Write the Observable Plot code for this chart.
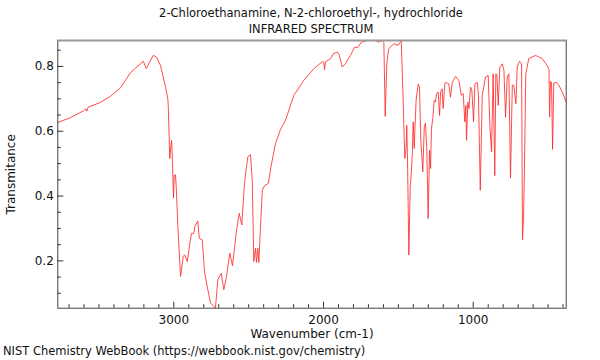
<!DOCTYPE html>
<html>
<head>
<meta charset="utf-8">
<script src="https://cdn.jsdelivr.net/npm/d3@7"></script>
<script src="https://cdn.jsdelivr.net/npm/@observablehq/plot@0.6"></script>
<style>
  html, body { margin: 0; padding: 0; background: #fff; }
  #wrap { position: relative; width: 600px; height: 360px; font-family: "DejaVu Sans", sans-serif; color: #111; overflow: hidden; }
  #wrap svg { position: absolute; left: 0; top: 0; }
  .t { position: absolute; white-space: nowrap; font-size: 11.5px; line-height: 1; }
</style>
</head>
<body>
<div id="wrap">
  <div class="t" id="title1" style="left:0;width:622px;text-align:center;top:8px;">2-Chloroethanamine, N-2-chloroethyl-, hydrochloride</div>
  <div class="t" id="title2" style="left:0;width:622px;text-align:center;top:24px;">INFRARED SPECTRUM</div>
  <div class="t" id="caption" style="left:3px;top:346px;">NIST Chemistry WebBook (https://webbook.nist.gov/chemistry)</div>
</div>
<script>
const wavenumbers = [3775,3690,3603,3588,3581,3573,3490,3423,3356,3289,3204,3184,3138,3116,3089,3055,3040,3037,3027,3022,3015,3011,3002,2997,2989,2984,2973,2955,2937,2927,2910,2893,2882,2866,2860,2840,2830,2810,2795,2777,2755,2722,2706,2683,2666,2648,2626,2608,2581,2563,2546,2528,2506,2488,2476,2466,2454,2448,2439,2432,2421,2409,2394,2369,2349,2321,2287,2254,2198,2132,2065,2005,1998,1993,1987,1953,1935,1908,1896,1875,1853,1820,1793,1771,1746,1708,1653,1631,1608,1597,1588,1577,1564,1530,1501,1481,1470,1464,1457,1448,1444,1439,1430,1421,1414,1407,1401,1394,1390,1381,1367,1359,1350,1337,1327,1319,1310,1301,1292,1285,1279,1270,1261,1252,1245,1234,1225,1218,1208,1201,1190,1185,1163,1152,1140,1118,1096,1080,1067,1056,1049,1045,1036,1029,1018,1009,998,989,973,965,953,940,918,900,889,878,867,856,849,842,833,822,806,795,784,773,762,751,739,729,715,706,691,677,671,664,658,649,629,584,539,506,494,490,484,477,470,462,444,428,405,379];
const transmittance = [0.627,0.642,0.663,0.669,0.662,0.674,0.689,0.708,0.734,0.781,0.816,0.793,0.834,0.829,0.803,0.736,0.700,0.675,0.516,0.542,0.572,0.532,0.394,0.465,0.465,0.429,0.305,0.152,0.215,0.218,0.198,0.254,0.285,0.285,0.305,0.323,0.270,0.265,0.166,0.121,0.070,0.055,0.142,0.162,0.111,0.152,0.224,0.185,0.295,0.347,0.311,0.439,0.521,0.528,0.449,0.198,0.239,0.195,0.239,0.195,0.306,0.418,0.432,0.439,0.495,0.562,0.606,0.634,0.711,0.757,0.793,0.816,0.812,0.790,0.814,0.824,0.839,0.844,0.837,0.798,0.809,0.834,0.859,0.859,0.875,0.880,0.880,0.875,0.880,0.875,0.646,0.812,0.855,0.870,0.865,0.880,0.726,0.624,0.516,0.552,0.618,0.516,0.218,0.429,0.470,0.531,0.629,0.547,0.603,0.700,0.746,0.736,0.572,0.475,0.613,0.625,0.542,0.331,0.542,0.485,0.608,0.640,0.695,0.690,0.716,0.721,0.649,0.721,0.731,0.670,0.746,0.751,0.746,0.705,0.751,0.769,0.757,0.711,0.716,0.629,0.680,0.572,0.690,0.670,0.736,0.726,0.629,0.746,0.751,0.711,0.418,0.711,0.767,0.772,0.618,0.537,0.777,0.463,0.777,0.775,0.680,0.798,0.808,0.788,0.643,0.767,0.777,0.455,0.742,0.742,0.685,0.798,0.816,0.808,0.265,0.334,0.480,0.777,0.824,0.834,0.824,0.803,0.791,0.644,0.754,0.751,0.544,0.749,0.751,0.742,0.721,0.690];
const xMajorTicks = [3000, 2000, 1000];
const xMinorTicks = [3700,3600,3500,3400,3300,3200,3100,2900,2800,2700,2600,2500,2400,2300,2200,2100,1900,1800,1700,1600,1500,1400,1300,1200,1100,900,800,700,600,500,400];
const yMajorTicks = [0.2, 0.4, 0.6, 0.8];
const yMinorTicks = [0.1,0.15,0.25,0.3,0.35,0.45,0.5,0.55,0.65,0.7,0.75,0.85];
const xLabel = "Wavenumber (cm-1)";
const yLabel = "Transmitance";

const spectrum = wavenumbers.map((w, i) => ({w, t: transmittance[i]}));

const W = 600, H = 360;
const mL = 57.3, mR = 34.3, mT = 40, mB = 52.3;
const plotW = W - mL - mR, plotH = H - mT - mB;

const chart = Plot.plot({
  width: W, height: H,
  marginLeft: mL, marginRight: mR, marginTop: mT, marginBottom: mB,
  style: {fontFamily: "DejaVu Sans, sans-serif", fontSize: "11.5px", color: "#111", background: "white"},
  x: {domain: [3775, 379]},
  y: {domain: [0.054, 0.88]},
  marks: [
    Plot.line(spectrum, {x: "w", y: "t", stroke: "#ff2a2a", strokeWidth: 0.85, curve: "linear"}),
    Plot.frame({stroke: "#444", strokeWidth: 1}),
    Plot.frame({anchor: "top", stroke: "#9a9a9a", strokeWidth: 2}),
    Plot.tickX(xMajorTicks, {x: d => d, stroke: "#333", insetTop: plotH - 6}),
    Plot.tickX(xMinorTicks, {x: d => d, stroke: "#333", insetTop: plotH - 3.5}),
    Plot.tickY(yMajorTicks, {y: d => d, stroke: "#333", insetRight: plotW - 6}),
    Plot.tickY(yMinorTicks, {y: d => d, stroke: "#333", insetRight: plotW - 3.5}),
    Plot.axisX(xMajorTicks, {tickSize: 0, tickPadding: 7, tickFormat: d => String(d), label: xLabel, labelAnchor: "center", labelArrow: "none", labelOffset: 30, fontSize: 12}),
    Plot.axisY(yMajorTicks, {tickSize: 0, tickPadding: 4, tickFormat: d => d.toFixed(1), label: yLabel, labelAnchor: "center", labelArrow: "none", labelOffset: 51, fontSize: 12})
  ]
});
document.getElementById("wrap").prepend(chart);
</script>
</body>
</html>
